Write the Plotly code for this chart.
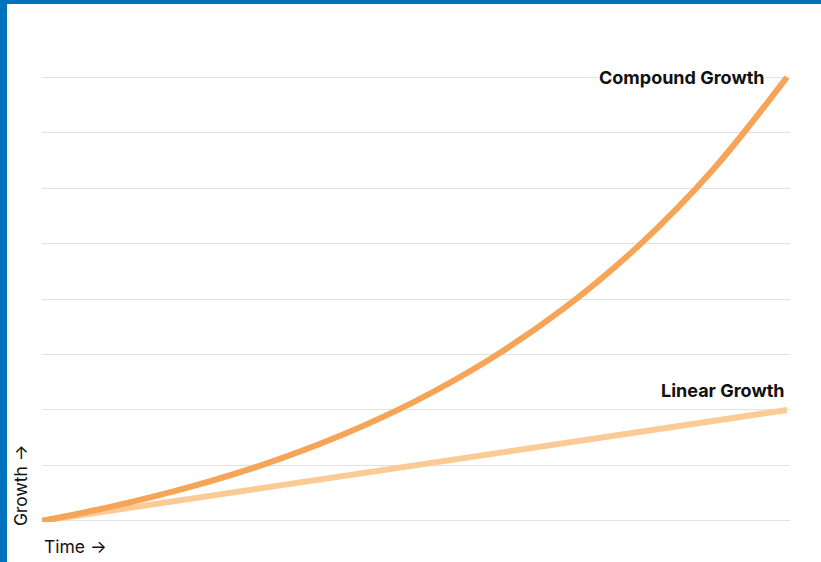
import plotly.graph_objects as go

time = [0, 1, 2, 3, 4, 5, 6, 7, 8, 9, 10]
compound = [0, 0.277, 0.616, 1.029, 1.534, 2.151, 2.905, 3.825, 4.949, 6.322, 8.0]
linear = [0, 0.2, 0.4, 0.6, 0.8, 1.0, 1.2, 1.4, 1.6, 1.8, 2.0]

W, H = 821, 562
# plot area: x 42..790 px, y 76..522 px
L, R, T, B = 42, 31, 76, 40
pw, ph = W - L - R, H - T - B
XR = [0, 10 * pw / (787 - L)]
YR = [-0.02, 8.02]

def px(x):
    return (x - L) / pw

def py(y):
    return (H - B - y) / ph

fig = go.Figure()
fig.add_trace(go.Scatter(x=time, y=linear, mode="lines", line=dict(color="#FBCB95", width=6),
                         cliponaxis=False, hoverinfo="skip"))
fig.add_trace(go.Scatter(x=time, y=compound, mode="lines", line=dict(color="#F6A558", width=6, shape="spline"),
                         cliponaxis=False, hoverinfo="skip"))

font_b = dict(family="Inter, Roboto, sans-serif", size=18, color="#111111", weight="bold")
font_r = dict(family="Inter, Roboto, sans-serif", size=17.5, color="#111111")

annotations = [
    dict(text="<b>Compound Growth</b>", x=px(767), y=py(77), xref="paper", yref="paper", xanchor="right",
         yanchor="middle", showarrow=False, font=font_b, bgcolor="white", borderpad=1),
    dict(text="<b>Linear Growth</b>", x=px(787), y=py(390), xref="paper", yref="paper", xanchor="right",
         yanchor="middle", showarrow=False, font=font_b),
    dict(text="Time →", x=px(42), y=py(546), xref="paper", yref="paper", xanchor="left", yanchor="middle",
         showarrow=False, font=font_r),
    dict(text="Growth →", x=px(20), y=py(485), xref="paper", yref="paper", xanchor="center", yanchor="middle",
         textangle=-90, showarrow=False, font=font_r),
]

shapes = [
    dict(type="rect", xref="paper", yref="paper", x0=px(0), x1=px(7), y0=py(H), y1=py(0),
         fillcolor="#0071BC", line=dict(width=0), layer="above"),
    dict(type="rect", xref="paper", yref="paper", x0=px(0), x1=px(W), y0=py(4), y1=py(0),
         fillcolor="#0071BC", line=dict(width=0), layer="above"),
]

fig.update_layout(
    width=W, height=H,
    margin=dict(l=L, r=R, t=T, b=B),
    paper_bgcolor="white", plot_bgcolor="white",
    showlegend=False,
    annotations=annotations,
    shapes=shapes,
    xaxis=dict(range=XR, showgrid=False, zeroline=False, showticklabels=False, showline=False, fixedrange=True),
    yaxis=dict(range=YR, tick0=0, dtick=1, showgrid=True, gridcolor="#E2E2E2", gridwidth=1, zeroline=False,
               showticklabels=False, showline=False, fixedrange=True),
)

fig.write_html("out.html", config={"displayModeBar": False})
